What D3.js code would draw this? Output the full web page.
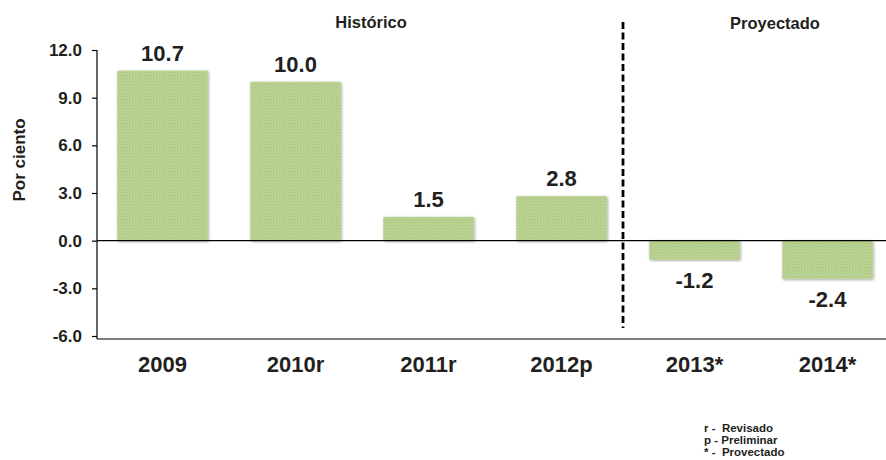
<!DOCTYPE html>
<html>
<head>
<meta charset="utf-8">
<script src="https://cdn.jsdelivr.net/npm/d3@7"></script>
<style>
body{margin:0;background:#fff;}
svg{display:block;font-family:"Liberation Sans",Arial,sans-serif;}
</style>
</head>
<body>
<svg id="chart" width="886" height="460"></svg>
<script>
const categories = ["2009","2010r","2011r","2012p","2013*","2014*"];
const values = [10.7, 10.0, 1.5, 2.8, -1.2, -2.4];
const yTicks = [-6, -3, 0, 3, 6, 9, 12];
const sectionLabels = ["Histórico","Proyectado"];
const notes = ["r -  Revisado","p - Preliminar","* -  Provectado"];

const svg = d3.select("#chart");
const x = d3.scaleBand().domain(categories).range([96, 894]).paddingInner(0.32).paddingOuter(0.16);
const y = d3.scaleLinear().domain([-6, 12]).range([336, 50]);
const ink = "#231f20";

const defs = svg.append("defs");
const pat = defs.append("pattern").attr("id","dots").attr("patternUnits","userSpaceOnUse").attr("width",3).attr("height",3);
pat.append("rect").attr("width",3).attr("height",3).attr("fill","#c1d89c");
pat.append("rect").attr("width",1.5).attr("height",1.5).attr("fill","#a6c37a");
pat.append("rect").attr("x",1.5).attr("y",1.5).attr("width",1.5).attr("height",1.5).attr("fill","#b1cb87");
const f = defs.append("filter").attr("id","sh").attr("x","-10%").attr("y","-10%").attr("width","120%").attr("height","120%");
f.append("feDropShadow").attr("dx",1).attr("dy",1).attr("stdDeviation",1.5).attr("flood-color","#000").attr("flood-opacity",0.35);

// bars
svg.append("g").selectAll("rect").data(values).join("rect")
  .attr("x",(d,i)=>x(categories[i]))
  .attr("width",x.bandwidth())
  .attr("y",d=>y(Math.max(0,d)))
  .attr("height",d=>Math.abs(y(d)-y(0)))
  .attr("fill","url(#dots)")
  .attr("filter","url(#sh)");

// zero line
svg.append("line").attr("x1",97).attr("x2",886).attr("y1",y(0)).attr("y2",y(0)).attr("stroke","#000").attr("stroke-width",1.2);

// y axis
const ya = svg.append("g").attr("transform","translate(97,0)")
  .call(d3.axisLeft(y).tickValues(yTicks).tickFormat(d=>d.toFixed(1)).tickSize(5).tickSizeOuter(0));
ya.select(".domain").attr("stroke","#000").attr("stroke-width",1.2).attr("d","M0,50V339");
ya.selectAll(".tick line").attr("stroke","#000").attr("stroke-width",1.2);
ya.selectAll(".tick text").attr("font-size",17).attr("font-weight","bold").attr("fill",ink).attr("x",-15)
  .attr("font-family","Liberation Sans, Arial, sans-serif");

// x axis
const xa = svg.append("g").attr("transform","translate(0,339)")
  .call(d3.axisBottom(x).tickSize(0).tickSizeOuter(0));
xa.select(".domain").attr("stroke","#000").attr("stroke-width",1.2).attr("d","M97,0H886");
xa.selectAll(".tick text").attr("font-size",22).attr("font-weight","bold").attr("fill",ink).attr("dy",0).attr("y",33)
  .attr("font-family","Liberation Sans, Arial, sans-serif");

// value labels
svg.append("g").selectAll("text").data(values).join("text")
  .attr("x",(d,i)=>x(categories[i])+x.bandwidth()/2)
  .attr("y",d=> d>=0 ? y(d)-10 : y(d)+28)
  .attr("text-anchor","middle").attr("font-size",22).attr("font-weight","bold").attr("fill",ink)
  .text(d=>d.toFixed(1));

// divider
svg.append("line").attr("x1",623).attr("x2",623).attr("y1",22).attr("y2",328)
  .attr("stroke","#000").attr("stroke-width",2.8).attr("stroke-dasharray","7,3.5");

// section labels
svg.append("text").attr("x",371).attr("y",28).attr("text-anchor","middle").attr("font-size",16.5).attr("font-weight","bold").attr("fill",ink).text(sectionLabels[0]);
svg.append("text").attr("x",775).attr("y",29).attr("text-anchor","middle").attr("font-size",16.5).attr("font-weight","bold").attr("fill",ink).text(sectionLabels[1]);

// y title
svg.append("text").attr("transform","translate(25,160) rotate(-90)").attr("text-anchor","middle")
  .attr("font-size",17).attr("font-weight","bold").attr("fill",ink).text("Por ciento");

// notes
svg.append("g").selectAll("text").data(notes).join("text")
  .attr("x",704).attr("y",(d,i)=>432+i*12).attr("font-size",11.5).attr("font-weight","bold").attr("fill",ink)
  .attr("xml:space","preserve").style("white-space","pre").text(d=>d);
</script>
</body>
</html>
